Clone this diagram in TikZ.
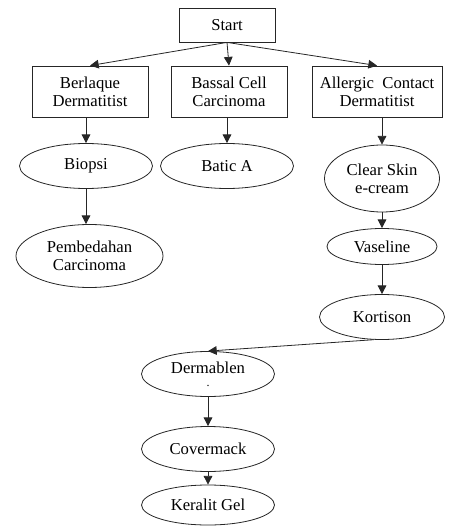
\documentclass[tikz,border=0pt]{standalone}
\usepackage{fontspec}
\setmainfont{Liberation Serif}
\usetikzlibrary{shapes.geometric,arrows.meta}

\begin{document}
\begin{tikzpicture}[
  x=0.75pt, y=-0.75pt,  % pixel grid of the reference, y downwards
  every node/.style={font=\fontsize{12.5}{13.5}\selectfont, align=center, inner sep=0pt},
  box/.style={draw=black!85, line width=0.6pt, rectangle, minimum height=38.25pt},
  oval/.style={draw=black!85, line width=0.6pt, ellipse, minimum width=99.75pt, minimum height=33.75pt},
  link/.style={draw=black!85, line width=0.6pt, -{Triangle[length=6.5pt,width=6.5pt]}}
]
\useasboundingbox (0,0) rectangle (454,527);

% ---------------- Top of the tree ----------------
\node[box, minimum width=72pt, minimum height=25.5pt] (start) at (227,25) {Start};

\node[box, minimum width=87pt]   (berlaque) at (90,91.5)  {Berlaque\\Dermatitist};
\node[box, minimum width=87pt]   (bassal)   at (229,91.5) {Bassal Cell\\Carcinoma};
\node[box, minimum width=97.5pt] (allergic) at (377,91.5) {Allergic\enspace Contact\\Dermatitist};

% ---------------- Left and middle columns ----------------
\node[oval] (biopsi) at (86,166) {Biopsi};
\node[oval, minimum width=110.25pt, minimum height=47.25pt] (pembedahan) at (89.5,256) {Pembedahan\\Carcinoma};
\node[oval] (batic) at (227,166) {Batic A};

% ---------------- Right column ----------------
\node[oval, minimum width=86.25pt, minimum height=50.25pt] (clearskin) at (382,178.5) {Clear Skin\\e-cream};
\node[oval, minimum width=82.5pt, minimum height=27pt] (vaseline) at (382,246.5) {Vaseline};
\node[oval, minimum width=93.75pt] (kortison) at (382,317) {Kortison};

% ---------------- Bottom column ----------------
\node[oval] (dermablen) at (208,374) {Dermablen\\[-4pt]{\small.}};
\node[oval] (covermack) at (208,449) {Covermack};
\node[oval, minimum height=30pt] (keralit) at (208,505) {Keralit Gel};

% ---------------- Connectors ----------------
\foreach \dst in {berlaque, bassal, allergic}
  \draw[link] (start.south) -- (\dst.north);

\draw[link] (berlaque.south -| biopsi.north) -- (biopsi.north);
\draw[link] (biopsi.south) -- (biopsi.south |- pembedahan.north);
\draw[link] (bassal.south -| batic.north) -- (batic.north);
\draw[link] (allergic.south -| clearskin.north) -- (clearskin.north);

\foreach \src/\dst in {clearskin/vaseline, vaseline/kortison, dermablen/covermack, covermack/keralit}
  \draw[link] (\src.south) -- (\dst.north);

\draw[link] (kortison.250) -- (dermablen.north);

\end{tikzpicture}
\end{document}
